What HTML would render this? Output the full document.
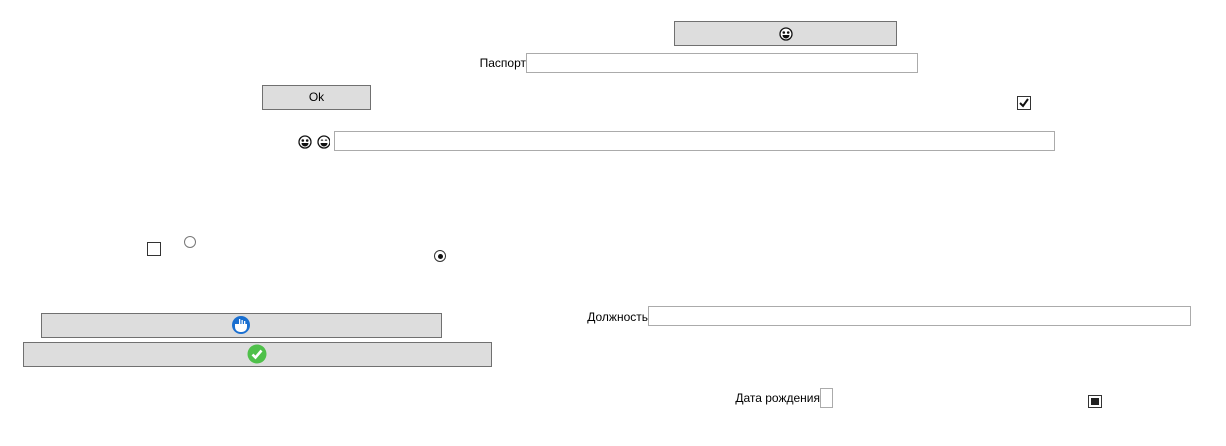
<!DOCTYPE html>
<html><head><meta charset="utf-8"><style>
body{margin:0;width:1226px;height:446px;background:#fff;position:relative;overflow:hidden;font-family:"Segoe UI","Liberation Sans","DejaVu Sans",sans-serif;font-size:12px;color:#000}
div{position:absolute;box-sizing:border-box}
.btn{background:#dddddd;border:1px solid #707070}
.inp{background:#fff;border:1px solid #ababab}
.lbl{text-align:right;line-height:14px;white-space:nowrap}
.cb{border:1px solid #333;background:#fff}
.rd{border:1px solid #333;border-radius:50%;background:#fff}
.emo{font-size:12px;line-height:12px;filter:grayscale(1) contrast(2);font-family:"DejaVu Sans",sans-serif}
</style></head><body>
<div class="btn" style="left:674px;top:21px;width:223px;height:25px"></div>
<svg style="position:absolute;left:779px;top:27px" width="14" height="14" viewBox="0 0 14 14"><circle cx="7" cy="7" r="6" fill="#fff" stroke="#111" stroke-width="1.3"/><circle cx="4.8" cy="5.5" r="1.3" fill="#111"/><circle cx="9.2" cy="5.5" r="1.3" fill="#111"/><path d="M3.5 8h7a3.5 3.5 0 0 1-7 0z" fill="#111"/></svg>

<div class="lbl" style="left:440px;top:56px;width:86px">Паспорт</div>
<div class="inp" style="left:526px;top:53px;width:392px;height:20px"></div>

<div class="btn" style="left:262px;top:85px;width:109px;height:25px;text-align:center;line-height:23px">Ok</div>

<div class="cb" style="left:1017px;top:96px;width:14px;height:14px"><svg style="position:absolute;left:1px;top:1px" width="10" height="10" viewBox="0 0 10 10"><path d="M1 5l3 3 5-7" fill="none" stroke="#111" stroke-width="2"/></svg></div>

<svg style="position:absolute;left:298px;top:135px" width="32" height="14" viewBox="0 0 32 14"><circle cx="7" cy="7" r="6" fill="#fff" stroke="#111" stroke-width="1.3"/><circle cx="4.8" cy="5.5" r="1.3" fill="#111"/><circle cx="9.2" cy="5.5" r="1.3" fill="#111"/><path d="M3.5 8h7a3.5 3.5 0 0 1-7 0z" fill="#111"/><circle cx="26" cy="7" r="6" fill="#fff" stroke="#111" stroke-width="1.3"/><path d="M23 5.5q1-1 2 0M27 5.5q1-1 2 0" stroke="#111" fill="none"/><path d="M22.5 8h7a3.5 3.5 0 0 1-7 0z" fill="#111"/></svg>
<div class="inp" style="left:334px;top:131px;width:721px;height:20px"></div>

<div class="cb" style="left:147px;top:242px;width:14px;height:14px"></div>
<div class="rd" style="left:184px;top:236px;width:12px;height:12px;border-color:#777"></div>
<div class="rd" style="left:434px;top:250px;width:12px;height:12px"><div style="left:2.5px;top:2.5px;width:5px;height:5px;border-radius:50%;background:#111"></div></div>

<div class="btn" style="left:41px;top:313px;width:401px;height:25px"></div>
<svg style="position:absolute;left:231px;top:315px" width="20" height="20" viewBox="0 0 20 20"><circle cx="10" cy="10" r="9" fill="#1a6fd0"/><path d="M4 9h12v3a5 5 0 0 1-5 5H9a5 5 0 0 1-5-5z" fill="#fff"/><rect x="8" y="4" width="1.3" height="5" fill="#fff"/><rect x="10.5" y="5" width="1.3" height="4" fill="#fff"/><rect x="13" y="6" width="1.3" height="3" fill="#fff"/></svg>

<div class="btn" style="left:23px;top:342px;width:469px;height:25px"></div>
<svg style="position:absolute;left:247px;top:344px" width="20" height="20" viewBox="0 0 20 20"><circle cx="10" cy="10" r="9.5" fill="#4fc04a"/><path d="M5.5 10.5l3 3 6-7" fill="none" stroke="#fff" stroke-width="2.6"/></svg>

<div class="lbl" style="left:560px;top:310px;width:88px">Должность</div>
<div class="inp" style="left:648px;top:306px;width:543px;height:20px"></div>

<div class="lbl" style="left:700px;top:391px;width:120px">Дата рождения</div>
<div class="inp" style="left:820px;top:388px;width:13px;height:20px"></div>

<div class="cb" style="left:1088px;top:395px;width:14px;height:13px"><div style="left:2px;top:2px;width:8px;height:7px;background:#222"></div></div>
</body></html>
